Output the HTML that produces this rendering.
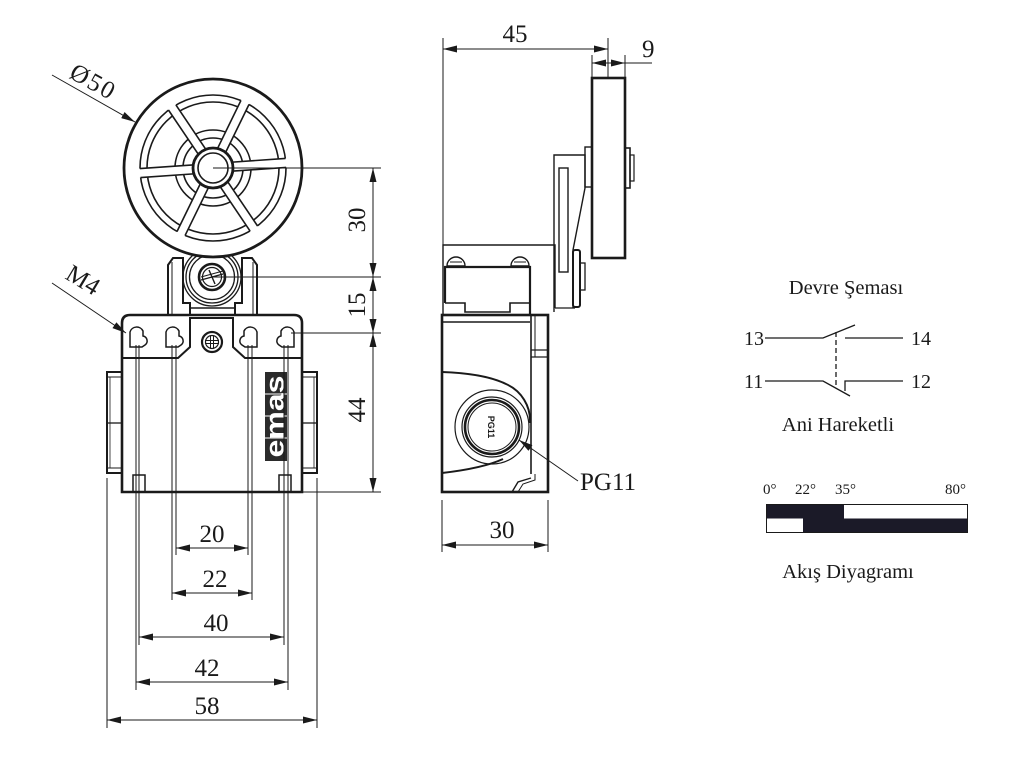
<!DOCTYPE html>
<html><head><meta charset="utf-8">
<style>
html,body{margin:0;padding:0;background:#fff;}
svg{display:block;}
text{font-family:"Liberation Serif",serif;fill:#1a1a1a;}
</style></head><body>
<svg width="1024" height="768" viewBox="0 0 1024 768" xmlns="http://www.w3.org/2000/svg">
<defs>
<marker id="a" viewBox="0 0 14 7" refX="14" refY="3.5" markerWidth="14" markerHeight="7" markerUnits="userSpaceOnUse" orient="auto-start-reverse"><path d="M0,0 L14,3.5 L0,7 Z" fill="#1a1a1a"/></marker>
</defs>
<rect width="1024" height="768" fill="#fff"/>

<!-- ============ FRONT VIEW ============ -->
<g stroke="#1a1a1a" fill="none">
  <!-- bracket -->
  <path d="M168,314 L168,265 L173,258 L183,258 L183,303 L190,303 L190,314" stroke-width="2"/>
  <path d="M257,314 L257,265 L252,258 L242,258 L242,303 L235,303 L235,314" stroke-width="2"/>
  <line x1="172" y1="262" x2="172" y2="314" stroke-width="1"/>
  <line x1="253" y1="262" x2="253" y2="314" stroke-width="1"/>
  <line x1="190" y1="308" x2="235" y2="308" stroke-width="1.5"/>
  <!-- hub circles -->
  <circle cx="212" cy="277" r="29" stroke-width="1.3"/>
  <circle cx="212" cy="277" r="26" stroke-width="1.3"/>
  <circle cx="212" cy="277" r="22.5" stroke-width="1.3"/>
  <circle cx="212" cy="277" r="13" stroke-width="2.6" fill="#fff"/>
  <circle cx="212" cy="277" r="9.5" stroke-width="1.2"/>
  <line x1="201" y1="280" x2="223" y2="274" stroke-width="1.4"/>
  <line x1="201" y1="277" x2="223" y2="271" stroke-width="1"/>
  <line x1="209" y1="270" x2="215" y2="284" stroke-width="1.4"/>

  <!-- roller -->
  <circle cx="213" cy="168" r="89" stroke-width="2.8" fill="#fff"/>
  <circle cx="213" cy="168" r="73" stroke-width="1.6"/>
  <circle cx="213" cy="168" r="66" stroke-width="1.6"/>
  <circle cx="213" cy="168" r="38" stroke-width="1.6"/>
  <circle cx="213" cy="168" r="30" stroke-width="1.6"/>
  <g transform="translate(213 168)" stroke-width="1.6">
    <g transform="rotate(-4)"><rect x="20" y="-4.5" width="55" height="9" fill="#fff" stroke="none"/><line x1="20" y1="-4.5" x2="73" y2="-4.5"/><line x1="20" y1="4.5" x2="73" y2="4.5"/></g>
    <g transform="rotate(-64)"><rect x="20" y="-4.5" width="55" height="9" fill="#fff" stroke="none"/><line x1="20" y1="-4.5" x2="73" y2="-4.5"/><line x1="20" y1="4.5" x2="73" y2="4.5"/></g>
    <g transform="rotate(-124)"><rect x="20" y="-4.5" width="55" height="9" fill="#fff" stroke="none"/><line x1="20" y1="-4.5" x2="73" y2="-4.5"/><line x1="20" y1="4.5" x2="73" y2="4.5"/></g>
    <g transform="rotate(-184)"><rect x="20" y="-4.5" width="55" height="9" fill="#fff" stroke="none"/><line x1="20" y1="-4.5" x2="73" y2="-4.5"/><line x1="20" y1="4.5" x2="73" y2="4.5"/></g>
    <g transform="rotate(-244)"><rect x="20" y="-4.5" width="55" height="9" fill="#fff" stroke="none"/><line x1="20" y1="-4.5" x2="73" y2="-4.5"/><line x1="20" y1="4.5" x2="73" y2="4.5"/></g>
    <g transform="rotate(-304)"><rect x="20" y="-4.5" width="55" height="9" fill="#fff" stroke="none"/><line x1="20" y1="-4.5" x2="73" y2="-4.5"/><line x1="20" y1="4.5" x2="73" y2="4.5"/></g>
    <circle r="20" stroke-width="2.8" fill="#fff"/>
    <circle r="15" stroke-width="1.6"/>
  </g>

  <!-- flange + body -->
  <path d="M130,315 L294,315 Q302,315 302,323 L302,492 L122,492 L122,323 Q122,315 130,315 Z" stroke-width="2.6" fill="none"/>
  <path d="M122,358 L178,358 L190,347 L190,318 L233,318 L233,347 L245,358 L302,358" stroke-width="2"/>
  <!-- keyholes -->
  <path d="M130,347 L130,332 A7,7 0 0 1 143,331 L143,336 A5,5 0 0 1 145,345 L142,347 Z" stroke-width="1.5" fill="#fff"/>
  <path d="M166,347 L166,332 A7,7 0 0 1 179,331 L179,336 A5,5 0 0 1 181,345 L178,347 Z" stroke-width="1.5" fill="#fff"/>
  <path d="M257,347 L257,332 A7,7 0 0 0 244,331 L244,336 A5,5 0 0 0 242,345 L245,347 Z" stroke-width="1.5" fill="#fff"/>
  <path d="M294,347 L294,332 A7,7 0 0 0 281,331 L281,336 A5,5 0 0 0 279,345 L282,347 Z" stroke-width="1.5" fill="#fff"/>
  <!-- flange screw -->
  <circle cx="212" cy="342" r="10" stroke-width="2.2"/>
  <circle cx="212" cy="342" r="6.5" stroke-width="1.2"/>
  <line x1="205" y1="340.5" x2="219" y2="340.5" stroke-width="1"/>
  <line x1="205" y1="343.5" x2="219" y2="343.5" stroke-width="1"/>
  <line x1="210.5" y1="336" x2="210.5" y2="348" stroke-width="1"/>
  <line x1="213.5" y1="336" x2="213.5" y2="348" stroke-width="1"/>
  <!-- glands -->
  <rect x="107" y="372" width="15" height="101" stroke-width="2"/>
  <line x1="107" y1="377" x2="122" y2="377" stroke-width="1"/>
  <line x1="107" y1="423" x2="122" y2="423" stroke-width="1.3"/>
  <line x1="107" y1="468" x2="122" y2="468" stroke-width="1"/>
  <line x1="110" y1="377" x2="110" y2="468" stroke-width="0.8"/>
  <rect x="302" y="372" width="15" height="101" stroke-width="2"/>
  <line x1="302" y1="377" x2="317" y2="377" stroke-width="1"/>
  <line x1="302" y1="423" x2="317" y2="423" stroke-width="1.3"/>
  <line x1="302" y1="468" x2="317" y2="468" stroke-width="1"/>
  <line x1="314" y1="377" x2="314" y2="468" stroke-width="0.8"/>
  <!-- bottom squares -->
  <rect x="133" y="475" width="12" height="17" stroke-width="1.5"/>
  <rect x="279" y="475" width="12" height="17" stroke-width="1.5"/>
</g>
<!-- emas logo -->
<rect x="265" y="372" width="22" height="89" fill="#2b2b2b"/>
<g stroke="#fff" stroke-width="1"><line x1="265" y1="394" x2="287" y2="394"/><line x1="265" y1="416" x2="287" y2="416"/><line x1="265" y1="438" x2="287" y2="438"/></g>
<text transform="translate(283.5 416.5) rotate(-90)" text-anchor="middle" font-size="26" textLength="82" lengthAdjust="spacingAndGlyphs" style="font-family:'Liberation Sans',sans-serif;font-weight:bold;fill:#fff">emas</text>

<!-- front extension/dim lines -->
<g stroke="#1a1a1a" stroke-width="1" fill="none">
  <line x1="213" y1="168" x2="381" y2="168"/>
  <line x1="212" y1="277" x2="381" y2="277"/>
  <line x1="291" y1="333" x2="381" y2="333"/>
  <line x1="302" y1="492" x2="381" y2="492"/>
  <line x1="373" y1="168" x2="373" y2="277" marker-start="url(#a)" marker-end="url(#a)"/>
  <line x1="373" y1="277" x2="373" y2="333" marker-start="url(#a)" marker-end="url(#a)"/>
  <line x1="373" y1="333" x2="373" y2="492" marker-start="url(#a)" marker-end="url(#a)"/>

  <line x1="136" y1="345" x2="136" y2="690"/>
  <line x1="139" y1="345" x2="139" y2="645"/>
  <line x1="172" y1="345" x2="172" y2="600"/>
  <line x1="176" y1="345" x2="176" y2="555"/>
  <line x1="248" y1="345" x2="248" y2="555"/>
  <line x1="252" y1="345" x2="252" y2="600"/>
  <line x1="284" y1="345" x2="284" y2="645"/>
  <line x1="288" y1="345" x2="288" y2="690"/>
  <line x1="107" y1="478" x2="107" y2="728"/>
  <line x1="317" y1="478" x2="317" y2="728"/>

  <line x1="176" y1="548" x2="248" y2="548" marker-start="url(#a)" marker-end="url(#a)"/>
  <line x1="172" y1="593" x2="252" y2="593" marker-start="url(#a)" marker-end="url(#a)"/>
  <line x1="139" y1="637" x2="284" y2="637" marker-start="url(#a)" marker-end="url(#a)"/>
  <line x1="136" y1="682" x2="288" y2="682" marker-start="url(#a)" marker-end="url(#a)"/>
  <line x1="107" y1="720" x2="317" y2="720" marker-start="url(#a)" marker-end="url(#a)"/>

  <line x1="52" y1="75" x2="135" y2="122" marker-end="url(#a)"/>
  <line x1="52" y1="283" x2="126" y2="333" marker-end="url(#a)"/>
</g>
<g font-size="25" text-anchor="middle">
  <text x="212" y="542">20</text>
  <text x="215" y="587">22</text>
  <text x="216" y="631">40</text>
  <text x="207" y="676">42</text>
  <text x="207" y="714">58</text>
  <text transform="translate(365 220) rotate(-90)">30</text>
  <text transform="translate(365 305) rotate(-90)">15</text>
  <text transform="translate(365 410) rotate(-90)">44</text>
</g>
<text transform="translate(68 77) rotate(29)" font-size="25" letter-spacing="2">Ø50</text>
<text transform="translate(64 278) rotate(31)" font-size="25">M4</text>

<!-- ============ SIDE VIEW ============ -->
<g stroke="#1a1a1a" fill="none">
  <!-- 45 & 9 dims -->
  <line x1="443" y1="38" x2="443" y2="245" stroke-width="1"/>
  <line x1="608" y1="38" x2="608" y2="78" stroke-width="1"/>
  <line x1="443" y1="49" x2="608" y2="49" stroke-width="1" marker-start="url(#a)" marker-end="url(#a)"/>
  <line x1="592" y1="55" x2="592" y2="78" stroke-width="1"/>
  <line x1="625" y1="55" x2="625" y2="78" stroke-width="1"/>
  <line x1="592" y1="63" x2="625" y2="63" stroke-width="1" marker-start="url(#a)" marker-end="url(#a)"/>
  <line x1="625" y1="63" x2="652" y2="63" stroke-width="1"/>

  <!-- lever arm -->
  <path d="M554,312 L554,155 L585,155 L585,188 L573,250 L573,308" stroke-width="1.4"/>
  <rect x="559" y="168" width="9" height="104" stroke-width="1.4"/>
  <!-- roller side -->
  <rect x="592" y="78" width="33" height="180" stroke-width="2.6" fill="#fff"/>
  <rect x="585" y="147" width="7" height="40" stroke-width="1.4"/>
  <rect x="625" y="148" width="5" height="40" stroke-width="1.6"/>
  <rect x="630" y="155" width="4" height="26" stroke-width="1.2"/>
  <!-- lower lever hub -->
  <rect x="573" y="250" width="7" height="57" rx="2" stroke-width="2"/>
  <rect x="580" y="263" width="5" height="27" stroke-width="1.3"/>
  <line x1="555" y1="308" x2="575" y2="308" stroke-width="1.3"/>

  <!-- head -->
  <path d="M443,315 L443,245 L555,245 L555,308" stroke-width="1.4"/>
  <path d="M447,266 A9,9 0 0 1 465,266 Z" stroke-width="1.4"/>
  <line x1="450" y1="262" x2="462" y2="262" stroke-width="1"/>
  <path d="M511,266 A9,9 0 0 1 529,266 Z" stroke-width="1.4"/>
  <line x1="514" y1="262" x2="526" y2="262" stroke-width="1"/>
  <path d="M445,303 L445,267 L530,267 L530,315" stroke-width="2.2"/>
  <path d="M445,303 L465,303 L465,312 L510,312 L510,303 L530,303" stroke-width="1.6"/>

  <!-- body -->
  <rect x="442" y="315" width="106" height="177" stroke-width="2.6"/>
  <line x1="442" y1="322" x2="530" y2="322" stroke-width="1.4"/>
  <line x1="531" y1="315" x2="531" y2="474" stroke-width="1.6"/>
  <line x1="535" y1="315" x2="535" y2="357" stroke-width="1"/>
  <line x1="531" y1="350" x2="548" y2="350" stroke-width="1.2"/>
  <line x1="531" y1="357" x2="548" y2="357" stroke-width="1.2"/>
  <path d="M512,492 L518,482 L531,478" stroke-width="1.4"/>
  <path d="M518,492 L523,484 L535,480 L535,474" stroke-width="1"/>
  <!-- gland housing -->
  <path d="M442,372 C470,373 492,377 506,384 A40,40 0 0 1 530,423" stroke-width="2"/>
  <path d="M442,473 C468,470 490,465 503,459" stroke-width="2"/>
  <circle cx="492" cy="427" r="37" stroke-width="1.2"/>
  <circle cx="492" cy="427" r="30" stroke-width="1.2"/>
  <circle cx="492" cy="427" r="27" stroke-width="2.6"/>
  <circle cx="492" cy="427" r="24" stroke-width="1"/>
  <!-- PG11 leader -->
  <line x1="519" y1="440" x2="578" y2="481" stroke-width="1" marker-start="url(#a)"/>
  <!-- 30 dim -->
  <line x1="442" y1="500" x2="442" y2="552" stroke-width="1"/>
  <line x1="548" y1="500" x2="548" y2="552" stroke-width="1"/>
  <line x1="442" y1="545" x2="548" y2="545" stroke-width="1" marker-start="url(#a)" marker-end="url(#a)"/>
</g>
<text transform="translate(488 427) rotate(90)" font-size="9" font-weight="bold" text-anchor="middle" style="font-family:'Liberation Sans',sans-serif">PG11</text>
<g font-size="25">
  <text x="515" y="42" text-anchor="middle">45</text>
  <text x="642" y="57">9</text>
  <text x="580" y="490">PG11</text>
  <text x="502" y="538" text-anchor="middle">30</text>
</g>

<!-- ============ SCHEMATIC ============ -->
<g font-size="20.5" text-anchor="middle">
  <text x="846" y="294">Devre Şeması</text>
  <text x="838" y="431">Ani Hareketli</text>
  <text x="848" y="578">Akış Diyagramı</text>
</g>
<g font-size="20">
  <text x="744" y="345">13</text>
  <text x="911" y="345">14</text>
  <text x="744" y="388">11</text>
  <text x="911" y="388">12</text>
</g>
<g stroke="#1a1a1a" stroke-width="1.3" fill="none">
  <path d="M765,338 L823,338 L855,325"/>
  <line x1="845" y1="338" x2="903" y2="338"/>
  <path d="M765,381 L823,381 L850,396"/>
  <path d="M845,391 L845,381 L903,381"/>
  <line x1="836" y1="332" x2="836" y2="387" stroke-dasharray="5,3"/>
</g>
<g font-size="15">
  <text x="763" y="494">0°</text>
  <text x="795" y="494">22°</text>
  <text x="835" y="494">35°</text>
  <text x="945" y="494">80°</text>
</g>
<rect x="766" y="504" width="78" height="14.5" fill="#1b1a28"/>
<rect x="803" y="518.5" width="165" height="14.5" fill="#1b1a28"/>
<rect x="766.5" y="504.5" width="201" height="28" fill="none" stroke="#1a1a1a" stroke-width="1"/>
</svg>
</body></html>
